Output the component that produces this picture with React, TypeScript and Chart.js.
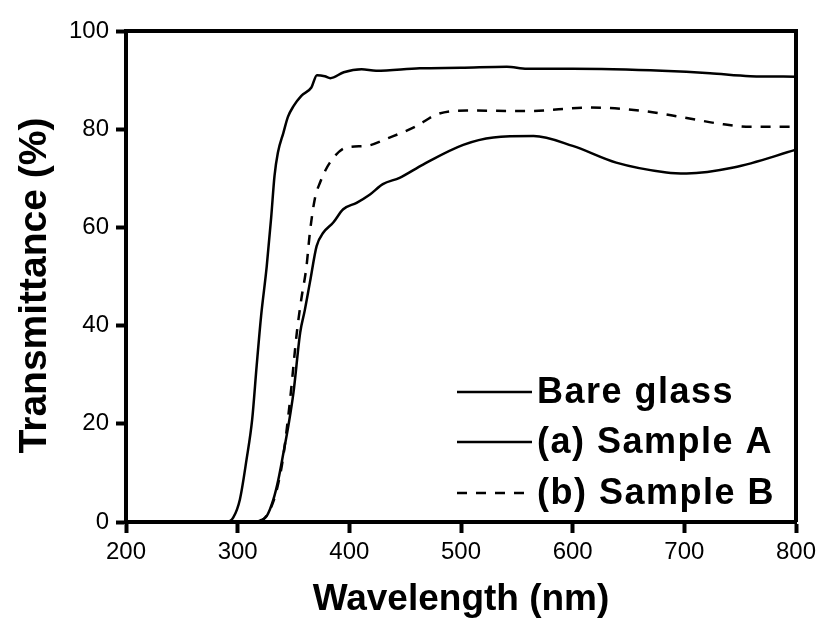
import React, { useEffect, useRef } from "react";
import { Chart, registerables } from "chart.js";

Chart.register(...registerables);

// Wavelength (nm) / transmittance (%)
const bareWl = [200, 290, 296, 302, 308, 313, 317, 321, 326, 330, 333, 336, 341, 345, 350, 357, 366, 371, 378, 383, 395, 411, 424, 463, 500, 541, 559, 600, 636, 680, 723, 759, 800];
const bareT = [0, 0, 0.9, 4.6, 12.8, 20.9, 31.8, 42, 52, 62, 70.5, 75.2, 79.3, 82.5, 84.7, 86.8, 88.5, 91, 90.8, 90.4, 91.6, 92.2, 91.9, 92.4, 92.5, 92.7, 92.3, 92.3, 92.2, 91.9, 91.4, 90.8, 90.7];

const aWl = [200, 315, 320, 326, 332, 336.5, 341, 345.4, 350, 356, 360, 364.7, 370.7, 376.6, 385.6, 394.5, 406.5, 418.5, 430, 445, 466, 502, 529, 565, 600, 639, 684, 702, 744, 800];
const aT = [0, 0, 0.3, 1.2, 4.6, 8.7, 14.1, 19.6, 26.4, 38.6, 43, 48.8, 56.2, 58.9, 61, 63.7, 65, 66.7, 68.8, 70.1, 72.8, 76.8, 78.3, 78.6, 76.6, 73.2, 71.2, 71, 72.2, 75.8];

const bWl = [200, 318, 325, 332, 337, 340.5, 344, 347, 353, 357, 361.6, 364.7, 369, 373.7, 382.6, 397.5, 415, 436, 460, 478, 505, 559, 616, 660, 699, 735, 759, 800];
const bT = [0, 0, 1, 4.2, 8.5, 12.8, 19, 25, 38.6, 45.4, 52, 59, 65.7, 69.1, 73.2, 76.3, 76.6, 78.3, 80.6, 83, 83.8, 83.7, 84.4, 83.8, 82.4, 81, 80.5, 80.5];

const seriesLabels = ["Bare glass", "(a) Sample A", "(b) Sample B"];
const xTicks = [200, 300, 400, 500, 600, 700, 800];
const yTicks = [0, 20, 40, 60, 80, 100];
const xTitle = "Wavelength (nm)";
const yTitle = "Transmittance (%)";

const FONT = "'Liberation Sans', Arial, sans-serif";

const toPts = (xs: number[], ys: number[]) => xs.map((x, i) => ({ x, y: ys[i] }));

const framePlugin = {
  id: "frame",
  afterDatasetsDraw(chart: any) {
    const { ctx, chartArea } = chart;
    ctx.save();
    ctx.strokeStyle = "#000";
    ctx.lineWidth = 4;
    ctx.beginPath();
    ctx.moveTo(chartArea.left, chartArea.top);
    ctx.lineTo(chartArea.right, chartArea.top);
    ctx.lineTo(chartArea.right, chartArea.bottom);
    ctx.stroke();
    ctx.restore();
  },
};

const yTitlePlugin = {
  id: "yTitle",
  afterDraw(chart: any) {
    const { ctx, chartArea } = chart;
    ctx.save();
    ctx.translate(35, (chartArea.top + chartArea.bottom) / 2 + 9);
    ctx.rotate(-Math.PI / 2);
    ctx.fillStyle = "#000";
    ctx.font = `bold 39px ${FONT}`;
    ctx.textAlign = "center";
    ctx.textBaseline = "middle";
    ctx.fillText(yTitle, 0, 0);
    ctx.restore();
  },
};

const legendPlugin = {
  id: "insideLegend",
  afterDraw(chart: any) {
    const { ctx, chartArea } = chart;
    const x0 = chartArea.left + 331;
    const x1 = chartArea.left + 406;
    const tx = chartArea.left + 411;
    const rows = [chartArea.top + 361, chartArea.top + 411, chartArea.top + 462];
    ctx.save();
    chart.data.datasets.forEach((ds: any, i: number) => {
      const y = rows[i];
      ctx.strokeStyle = ds.borderColor;
      ctx.lineWidth = 2.5;
      ctx.setLineDash(ds.borderDash || []);
      ctx.beginPath();
      ctx.moveTo(x0, y);
      ctx.lineTo(x1, y);
      ctx.stroke();
      ctx.setLineDash([]);
      ctx.fillStyle = "#000";
      ctx.font = `bold 36px ${FONT}`;
      (ctx as any).letterSpacing = "1.5px";
      ctx.textBaseline = "middle";
      ctx.textAlign = "left";
      ctx.fillText(ds.label, tx, y + 1);
    });
    ctx.restore();
  },
};

export default function App() {
  const ref = useRef<HTMLCanvasElement>(null);
  useEffect(() => {
    if (!ref.current) return;
    const chart = new Chart(ref.current, {
      type: "line",
      data: {
        datasets: [
          { label: seriesLabels[0], data: toPts(bareWl, bareT), borderColor: "#000", borderWidth: 2.5, pointRadius: 0, cubicInterpolationMode: "monotone", fill: false },
          { label: seriesLabels[1], data: toPts(aWl, aT), borderColor: "#000", borderWidth: 2.5, pointRadius: 0, cubicInterpolationMode: "monotone", fill: false },
          { label: seriesLabels[2], data: toPts(bWl, bT), borderColor: "#000", borderWidth: 2.5, borderDash: [10, 9], pointRadius: 0, cubicInterpolationMode: "monotone", fill: false },
        ],
      },
      options: {
        responsive: false,
        animation: false,
        layout: { padding: { top: 31, right: 39, left: 0, bottom: 0 } },
        plugins: { legend: { display: false }, tooltip: { enabled: false } },
        scales: {
          x: {
            type: "linear",
            min: 200,
            max: 800,
            afterBuildTicks: (s: any) => { s.ticks = xTicks.map((v) => ({ value: v })); },
            afterFit: (s: any) => { s.height = 105; },
            grid: { display: true, drawOnChartArea: false, drawTicks: true, tickLength: 11, tickWidth: 4, tickColor: "#000" },
            border: { display: true, color: "#000", width: 4 },
            ticks: { color: "#000", font: { family: FONT, size: 24 }, padding: 5, maxRotation: 0 },
            title: { display: true, text: xTitle, color: "#000", font: { family: FONT, size: 37, weight: "bold" }, padding: { top: 4, bottom: 5 } },
          },
          y: {
            type: "linear",
            min: 0,
            max: 100,
            afterBuildTicks: (s: any) => { s.ticks = yTicks.map((v) => ({ value: v })); },
            afterFit: (s: any) => { s.width = 126; },
            grid: { display: true, drawOnChartArea: false, drawTicks: true, tickLength: 10, tickWidth: 4, tickColor: "#000" },
            border: { display: true, color: "#000", width: 4 },
            ticks: { color: "#000", font: { family: FONT, size: 24 }, padding: 7 },
            title: { display: false },
          },
        },
      },
      plugins: [framePlugin, legendPlugin, yTitlePlugin],
    });
    return () => chart.destroy();
  }, []);
  return (
    <div style={{ position: "absolute", left: 0, top: 0, width: 835, height: 627, background: "#fff" }}>
      <canvas ref={ref} width={835} height={627} />
    </div>
  );
}
